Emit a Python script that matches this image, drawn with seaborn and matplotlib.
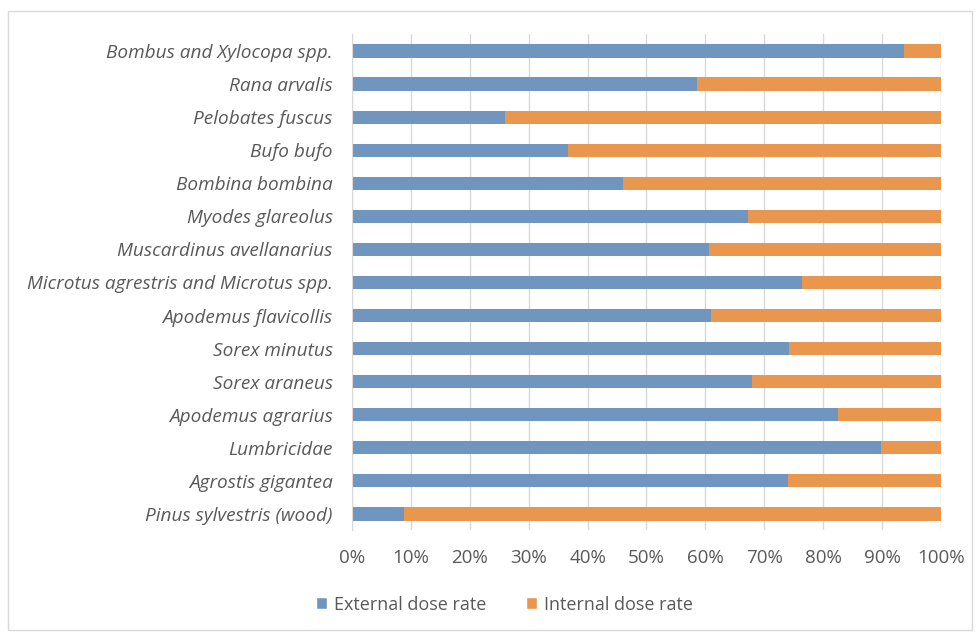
import matplotlib
matplotlib.use("Agg")
import matplotlib.pyplot as plt
import seaborn as sns
import pandas as pd
from matplotlib.patches import Patch, Rectangle
from matplotlib.ticker import PercentFormatter

categories = [
    "Bombus and Xylocopa spp.", "Rana arvalis", "Pelobates fuscus", "Bufo bufo",
    "Bombina bombina", "Myodes glareolus", "Muscardinus avellanarius",
    "Microtus agrestris and Microtus spp.", "Apodemus flavicollis", "Sorex minutus",
    "Sorex araneus", "Apodemus agrarius", "Lumbricidae", "Agrostis gigantea",
    "Pinus sylvestris (wood)",
]
external = [93.8, 58.5, 26.0, 36.7, 46.0, 67.3, 60.7, 76.5, 61.0, 74.2, 68.0, 82.5, 89.8, 74.1, 8.9]
internal = [100 - e for e in external]
xticks = [0, 10, 20, 30, 40, 50, 60, 70, 80, 90, 100]

df = pd.DataFrame({"cat": categories, "ext": external,
                   "total": [e + i for e, i in zip(external, internal)]})

sns.set_style("white")
plt.rcParams["font.family"] = ["Open Sans", "DejaVu Sans"]

BLUE = "#7096C0"
ORANGE = "#E9964F"
TXT = "#595959"

fig = plt.figure(figsize=(9.78, 6.33), dpi=100)
ax = fig.add_axes([0.36, 0.162, 0.602, 0.7835])

sns.barplot(data=df, y="cat", x="total", color=ORANGE, orient="h", width=0.4,
            saturation=1, ax=ax, edgecolor="none")
sns.barplot(data=df, y="cat", x="ext", color=BLUE, orient="h", width=0.4,
            saturation=1, ax=ax, edgecolor="none")

ax.set_xlim(0, 100)
ax.set_ylim(len(categories) - 0.5, -0.5)
ax.set_xticks(xticks)
ax.xaxis.set_major_formatter(PercentFormatter(decimals=0))
ax.set_xlabel("")
ax.set_ylabel("")
ax.grid(axis="x", color="#D9D9D9", linewidth=1)
ax.set_axisbelow(True)
for s in ["top", "right", "bottom"]:
    ax.spines[s].set_visible(False)
ax.spines["left"].set_color("#D9D9D9")
ax.tick_params(axis="x", length=0, pad=13, labelsize=13.5, labelcolor=TXT)
ax.tick_params(axis="y", length=0, pad=14, labelsize=13.7, labelcolor=TXT)
for lab in ax.get_yticklabels():
    lab.set_fontstyle("italic")

handles = [Patch(facecolor=BLUE, label="External dose rate"),
           Patch(facecolor=ORANGE, label="Internal dose rate")]
fig.legend(handles=handles, loc="center", bbox_to_anchor=(0.516, 0.045), ncol=2,
           frameon=False, fontsize=13, labelcolor=TXT, handlelength=0.6,
           handleheight=0.6, handletextpad=0.4, columnspacing=2.2)

fig.add_artist(Rectangle((0.008, 0.005), 0.986, 0.978, transform=fig.transFigure,
                         fill=False, edgecolor="#D9D9D9", linewidth=1))

fig.savefig("out.png", dpi=100)
